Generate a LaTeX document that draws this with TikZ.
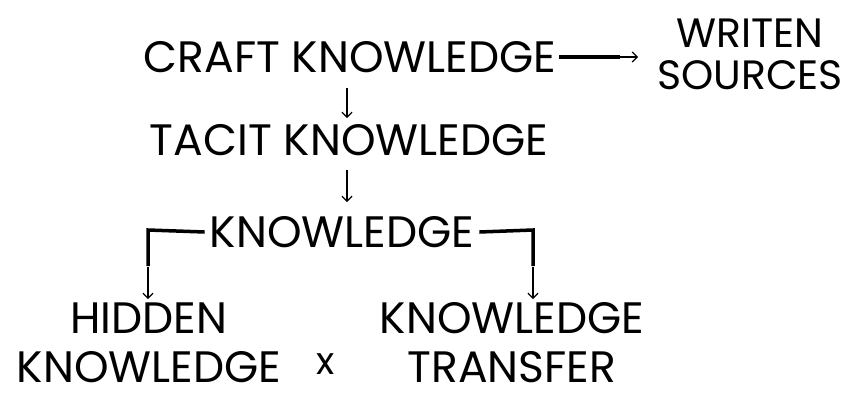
\documentclass[tikz,border=0pt]{standalone}
\usepackage{fontspec}
\setmainfont{Poppins}
\usetikzlibrary{arrows.meta}
\begin{document}
\begin{tikzpicture}[x=1pt,y=-1pt,
  lbl/.style={inner sep=0pt,font=\fontsize{44}{40}\selectfont,align=center},
  lblside/.style={inner sep=0pt,font=\fontsize{41}{42}\selectfont,align=center},
  lbltwo/.style={inner sep=0pt,font=\fontsize{44}{49}\selectfont,align=center},
  thickline/.style={line width=3.5pt},
  thinarrow/.style={line width=1.2pt,-{Straight Barb[length=5pt,width=10pt]}}]
\useasboundingbox (0,0) rectangle (862,392);
\node[lbl] (craft) at (350,57) {CRAFT KNOWLEDGE};
\node[lblside] (writen) at (750,54) {WRITEN\\SOURCES};
\node[lbl] (tacit) at (349,140) {TACIT KNOWLEDGE};
\node[lbl] (know) at (342,232) {KNOWLEDGE};
\node[lbltwo] (hidden) at (149,343) {HIDDEN\\KNOWLEDGE};
\node[lbltwo] (transfer) at (512,343) {KNOWLEDGE\\TRANSFER};
\node[inner sep=0pt,font=\fontsize{38}{40}\selectfont] (x) at (326,364) {x};
% craft -> writen
\draw[thickline] ([xshift=3pt]craft.east) -- (620,57) coordinate (m1);
\draw[thinarrow] ([xshift=-1pt]m1) -- (638,57) coordinate (m2);
% vertical arrows
\draw[thinarrow] (347,88) coordinate (a1) -- (347,118) coordinate (a1e);
\draw[thinarrow] (347,170) coordinate (a2) -- (347,202) coordinate (a2e);
% bracket
\draw[thickline] ([xshift=-5pt]know.west) -- (148,230) coordinate (l1) -- (148,266) coordinate (l2);
\draw[thinarrow] ([yshift=-1pt]l2) -- (148,299) coordinate (l3);
\draw[thickline] ([xshift=5pt]know.east) -- (533,230) coordinate (r1) -- (533,266) coordinate (r2);
\draw[thinarrow] ([yshift=-1pt]r2) -- (533,299) coordinate (r3);
\end{tikzpicture}
\end{document}
